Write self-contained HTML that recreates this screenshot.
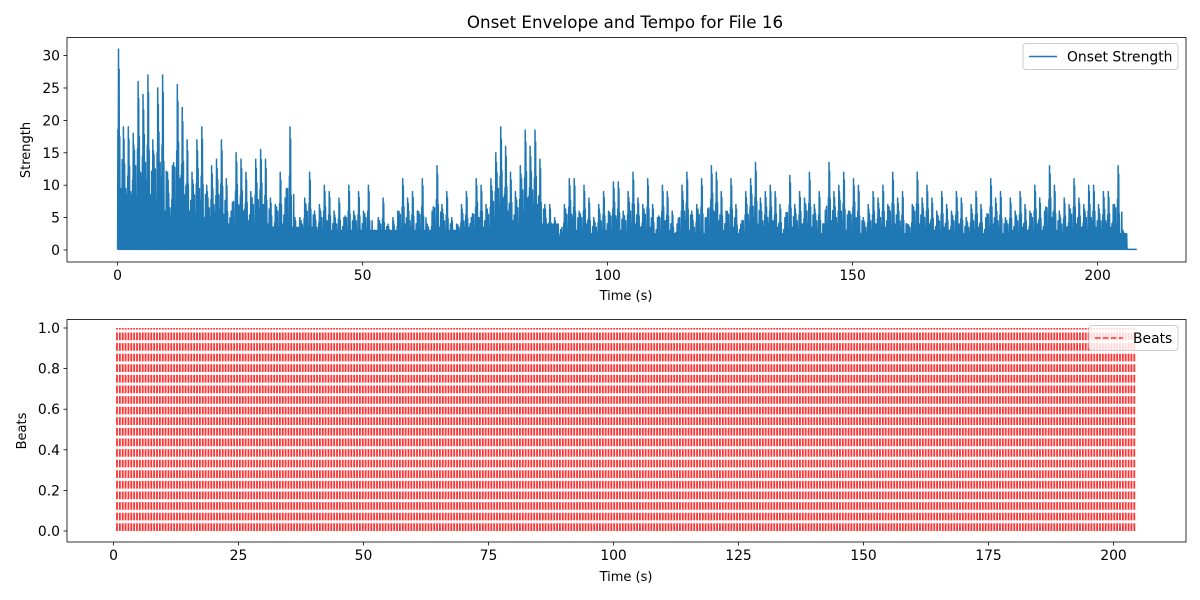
<!DOCTYPE html>
<html><head><meta charset="utf-8"><style>
html,body{margin:0;padding:0;background:#fff;}
svg{display:block;font-family:"DejaVu Sans","Liberation Sans",sans-serif;}
</style></head><body>
<svg id="chart" width="1200" height="600" viewBox="0 0 1200 600">
<rect width="1200" height="600" fill="#fff"/>
<defs><clipPath id="c1"><rect x="67" y="37.5" width="1119" height="224.5"/></clipPath><clipPath id="c2"><rect x="67" y="319.5" width="1119" height="222.5"/></clipPath></defs>
<text x="625" y="28" font-size="16.7" text-anchor="middle">Onset Envelope and Tempo for File 16</text>
<g id="topAx"></g>
<g id="botAx"></g>
</svg>
<script>
// Onset strength peak per second (t = 0..207)
const onsetPeaks = [31,19,19,18,26,24,27,17,25,27,12,13,25.5,22,17,12,17,19,10,13,14,17,11,6,15,14,12,9,14,15.5,14,8,7,12,8,19,5,5,8,12,6,7,10,9,6,8,5,10,6,9,6,10,3,5,8,4,5,6,11,8,9,6,11,4,6,13,7,9,5,4,7,9,5,11,10,7,11,15,19,16,12,9,13,18.5,16,18.5,14,7,7,5,2,7,11,11,6,10,8,5,7,9,6,10.5,10.5,6,9,12,8,7,11,7,5,10,9,6,4,10,12,6,7,11,5,13,12,9,6,11,7,4,9,11,13.5,8,9,10,9,7,5,11.5,7,9,8,12,7,9,4,13.5,9,10,12,6,11,10,5,7,9,8,10,7,12,8,9,4,7,12,8,10,8,6,9,7,6,9,8,5,7,9,7,5,11,8,9,5,8,6,9,7,6,10,8,6,13,10,6,8,7,11,8,7,10,10,7,9,9,7,13,3,0,0];
// Dense background level per 10-second block
const onsetFloor = [5,5,4,3.5,3,3,3,3.5,4,2.5,2.5,2.5,2.5,2.5,2.5,2.5,2.5,2.5,2.5,2.5,2.5,0];
const topYTicks = [0,5,10,15,20,25,30];
const topXTicks = [0,50,100,150,200];
const botXTicks = [0,25,50,75,100,125,150,175,200];
const botYTicks = [0.0,0.2,0.4,0.6,0.8,1.0];
const beatStart = 0.70, beatPeriod = 0.5715, beatEnd = 204.3;

const NS="http://www.w3.org/2000/svg";
function mk(tag,attrs,parent,txt){const e=document.createElementNS(NS,tag);for(const k in attrs)e.setAttribute(k,attrs[k]);if(txt!==undefined)e.textContent=txt;parent.appendChild(e);return e;}

// ---------- top axes ----------
const gTop=document.getElementById('topAx');
const tx=t=>117.6+4.9*t, ty=v=>250-6.48*v;
let pts=[];
for(let t=0;t<onsetPeaks.length;t++){
  const p=onsetPeaks[t], pn=onsetPeaks[t+1]||0, f=onsetFloor[Math.floor(t/10)]||0;
  if(t>=206){pts.push([tx(t),ty(0.1)],[tx(t+1),ty(0.1)]);continue;}
  const hs=[Math.max(f,p*0.6),p,p*0.9,Math.max(f,0.35*(p+pn)),f,Math.max(f,pn*0.5),f*0.8,Math.max(f,p*0.45)];
  for(let k=0;k<8;k++){
    pts.push([tx(t+k/8),ty(0.1)],[tx(t+k/8+1/16),ty(hs[k])]);
  }
}
const line=mk('polyline',{points:pts.map(p=>p[0].toFixed(2)+','+p[1].toFixed(2)).join(' '),fill:'none',stroke:'#1f77b4','stroke-width':1.5,'stroke-linejoin':'round','clip-path':'url(#c1)'},gTop);


mk('rect',{x:67,y:37.5,width:1119,height:224.5,fill:'none',stroke:'#000','stroke-width':0.8},gTop);
topYTicks.forEach(v=>{const y=ty(v);mk('line',{x1:63.5,x2:67,y1:y,y2:y,stroke:'#000','stroke-width':0.8},gTop);
  const l=mk('text',{x:60,y:y+5,'font-size':13.9,'text-anchor':'end'},gTop,String(v));
  
  });
topXTicks.forEach(v=>{const x=tx(v);mk('line',{x1:x,x2:x,y1:262,y2:265.5,stroke:'#000','stroke-width':0.8},gTop);
  const l=mk('text',{x:x,y:280,'font-size':13.9,'text-anchor':'middle'},gTop,String(v));
  
  });
mk('text',{x:626,y:300,'font-size':13,'text-anchor':'middle',},gTop,'Time (s)');
mk('text',{x:30,y:150,'font-size':13,'text-anchor':'middle',transform:'rotate(-90 30 150)',},gTop,'Strength');
const lg1=mk('g',{},gTop);
mk('rect',{x:1023,y:43.5,width:155,height:26,rx:3,fill:'#fff','fill-opacity':0.8,stroke:'#ccc'},lg1);
mk('line',{x1:1029,x2:1057,y1:56.5,y2:56.5,stroke:'#1f77b4','stroke-width':1.5},lg1);
mk('text',{x:1067,y:61.5,'font-size':13.9},lg1,'Onset Strength');

// ---------- bottom axes ----------
const gBot=document.getElementById('botAx');
const bx=t=>113.5+5*t, by=v=>531-203*v;
const bg=mk('g',{'clip-path':'url(#c2)'},gBot);
for(let t=beatStart;t<=beatEnd;t+=beatPeriod){
  const b=mk('line',{x1:bx(t),x2:bx(t),y1:by(0),y2:by(1),stroke:'#ff0000','stroke-opacity':0.8,'stroke-width':1.8,'stroke-dasharray':'7.7,2.9'},bg);
  
  
}
mk('rect',{x:67,y:319.5,width:1119,height:222.5,fill:'none',stroke:'#000','stroke-width':0.8},gBot);
botYTicks.forEach(v=>{const y=by(v);mk('line',{x1:63.5,x2:67,y1:y,y2:y,stroke:'#000','stroke-width':0.8},gBot);
  const l=mk('text',{x:60,y:y+5,'font-size':13.9,'text-anchor':'end'},gBot,v.toFixed(1));
  
  });
botXTicks.forEach(v=>{const x=bx(v);mk('line',{x1:x,x2:x,y1:542,y2:545.5,stroke:'#000','stroke-width':0.8},gBot);
  const l=mk('text',{x:x,y:560,'font-size':13.9,'text-anchor':'middle'},gBot,String(v));
  
  });
mk('text',{x:626,y:581,'font-size':13,'text-anchor':'middle',},gBot,'Time (s)');
mk('text',{x:26,y:431,'font-size':13,'text-anchor':'middle',transform:'rotate(-90 26 431)',},gBot,'Beats');
const lg2=mk('g',{},gBot);
mk('rect',{x:1089,y:325.5,width:89,height:25,rx:3,fill:'#fff','fill-opacity':0.8,stroke:'#ccc'},lg2);
mk('line',{x1:1095,x2:1123,y1:338,y2:338,stroke:'#ff0000','stroke-opacity':0.8,'stroke-width':1.5,'stroke-dasharray':'5.5,2.4'},lg2);
mk('text',{x:1133,y:343,'font-size':13.9},lg2,'Beats');
</script>
</body></html>
